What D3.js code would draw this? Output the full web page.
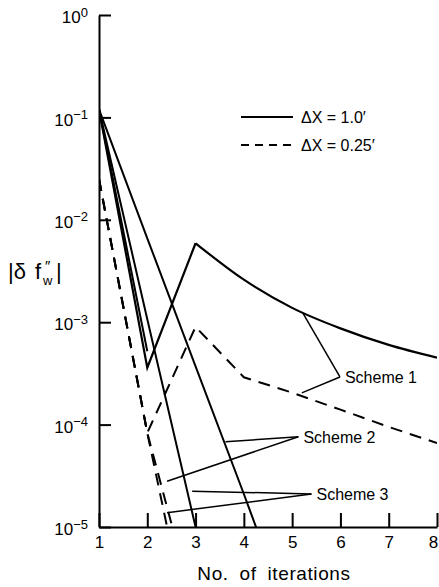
<!DOCTYPE html>
<html>
<head>
<meta charset="utf-8">
<script src="https://cdn.jsdelivr.net/npm/d3@7/dist/d3.min.js"></script>
<style>
  body { margin: 0; background: #fff; }
  svg { display: block; font-family: "Liberation Sans", Arial, sans-serif; }
</style>
</head>
<body>
<div id="chart"></div>
<script>
// iteration number on x, |delta f''w| on y (log)
const iterations = [1, 2, 3, 4, 5, 6, 7, 8];
const yTickValues = [1, 1e-1, 1e-2, 1e-3, 1e-4, 1e-5];
const yTickExponents = ['0', '\u22121', '\u22122', '\u22123', '\u22124', '\u22125'];

// dX = 1.0'
const solidScheme1 = [0.12, 3.6e-4, 5.9e-3, 2.6e-3, 1.38e-3, 8.7e-4, 6.0e-4, 4.5e-4];
const solidScheme1b = [0.12, 5.2e-4];
const solidScheme2 = [0.12, 6.6e-3, 3.7e-4, 2.1e-5, 1.1e-6];
const solidScheme3 = [0.12, 1.07e-3, 1.0e-5];

// dX = 0.25'
const dashedScheme1 = [0.025, 8.3e-5, 9.0e-4, 2.9e-4, 2.05e-4, 1.4e-4, 9.5e-5, 6.6e-5];
const dashedScheme2 = [0.025, 8.3e-5, 4.8e-7];
const dashedScheme3 = [0.025, 8.3e-5, 1.4e-6];

// annotation leaders, in data units
const schemeLabels = ['Scheme 1', 'Scheme 2', 'Scheme 3'];
const leaderHubs = [[5.99, 2.92e-4], [5.13, 7.6e-5], [5.40, 2.1e-5]];
const leaderEnds = [
    [[5.22, 1.23e-3], [5.20, 2.04e-4]],
    [[3.62, 6.8e-5], [2.41, 2.8e-5]],
    [[2.93, 2.24e-5], [2.41, 1.38e-5]]
];

const width = 439, height = 587;
const x0 = 99, x1 = 437, yTop = 15, yBot = 527;

const svg = d3.select('#chart')
    .append('svg')
    .attr('width', width)
    .attr('height', height);

const xScale = d3.scaleLinear().domain([1, 8]).range([x0, x1]);
const yScale = d3.scaleLog().domain([1e-5, 1]).range([yBot, yTop]);

svg.append('clipPath')
    .attr('id', 'plotClip')
    .append('rect')
    .attr('x', x0)
    .attr('y', yTop)
    .attr('width', x1 - x0)
    .attr('height', yBot - yTop);

// axes
const yAxis = svg.append('g')
    .attr('transform', `translate(${x0}, 0)`)
    .call(d3.axisLeft(yScale)
        .tickValues(yTickValues)
        .tickSizeInner(-12)
        .tickSizeOuter(0)
        .tickFormat(() => ''));

yAxis.selectAll('text').each(function(d, i) {
    const t = d3.select(this);
    t.text(null);
    t.append('tspan').text('10');
    t.append('tspan')
        .attr('dy', '-0.5em')
        .style('font-size', '13px')
        .text(yTickExponents[i]);
});
yAxis.selectAll('text')
    .attr('x', -11)
    .attr('dy', '0.45em')
    .style('font-size', '17px')
    .attr('fill', '#000');

const xAxis = svg.append('g')
    .attr('transform', `translate(0, ${yBot})`)
    .call(d3.axisBottom(xScale)
        .tickValues(iterations)
        .tickSizeInner(-14)
        .tickSizeOuter(0)
        .tickPadding(9)
        .tickFormat(d3.format('d')));

xAxis.selectAll('text')
    .style('font-size', '17px')
    .attr('fill', '#000')
    .attr('dx', d => d === 8 ? -4 : 0);

svg.selectAll('.domain, .tick line')
    .attr('stroke', '#000')
    .attr('stroke-width', 2);

// y axis label |δ f''w|
const yLabel = svg.append('text')
    .attr('y', 279)
    .style('font-size', '22px')
    .attr('fill', '#000');
yLabel.append('tspan').attr('x', 8).text('|\u03b4');
yLabel.append('tspan').attr('x', 35).text('f');
yLabel.append('tspan').attr('x', 43).attr('y', 285).style('font-size', '13px').text('w');
yLabel.append('tspan').attr('x', 45).attr('y', 271).style('font-size', '15px').text('\u2033');
yLabel.append('tspan').attr('x', 56).attr('y', 279).text('|');

svg.append('text')
    .attr('x', (x0 + x1) / 2 + 6)
    .attr('y', 580)
    .attr('text-anchor', 'middle')
    .style('font-size', '19px')
    .style('letter-spacing', '0.6px')
    .style('word-spacing', '5px')
    .attr('fill', '#000')
    .text('No. of iterations');

// series
const line = d3.line()
    .x((d, i) => xScale(iterations[i]))
    .y(d => yScale(d));

const plot = svg.append('g').attr('clip-path', 'url(#plotClip)');

const solidSeries = [solidScheme1b, solidScheme2, solidScheme3];
solidSeries.forEach(s => {
    plot.append('path')
        .datum(s)
        .attr('fill', 'none')
        .attr('stroke', '#000')
        .attr('stroke-width', 2)
        .attr('d', line);
});

// scheme 1 solid: straight up to the peak, smooth afterwards
plot.append('path')
    .datum(solidScheme1.slice(0, 3))
    .attr('fill', 'none')
    .attr('stroke', '#000')
    .attr('stroke-width', 2.2)
    .attr('d', line);

const tailLine = d3.line()
    .x((d, i) => xScale(iterations[i + 2]))
    .y(d => yScale(d))
    .curve(d3.curveMonotoneX);

plot.append('path')
    .datum(solidScheme1.slice(2))
    .attr('fill', 'none')
    .attr('stroke', '#000')
    .attr('stroke-width', 2.2)
    .attr('d', tailLine);

const dashedSeries = [dashedScheme1, dashedScheme2, dashedScheme3];
dashedSeries.forEach(s => {
    plot.append('path')
        .datum(s)
        .attr('fill', 'none')
        .attr('stroke', '#000')
        .attr('stroke-width', 2)
        .attr('stroke-dasharray', '12 8')
        .attr('d', line);
});

// leaders + labels
schemeLabels.forEach((label, i) => {
    const hx = xScale(leaderHubs[i][0]);
    const hy = yScale(leaderHubs[i][1]);
    leaderEnds[i].forEach(e => {
        svg.append('line')
            .attr('x1', hx)
            .attr('y1', hy)
            .attr('x2', xScale(e[0]))
            .attr('y2', yScale(e[1]))
            .attr('stroke', '#000')
            .attr('stroke-width', 1.5);
    });
    svg.append('text')
        .attr('x', hx + 5)
        .attr('y', hy)
        .attr('dy', '0.36em')
        .style('font-size', '16px')
        .attr('fill', '#000')
        .text(label);
});

// legend
const legendKeys = ['\u0394X = 1.0\u2032', '\u0394X = 0.25\u2032'];
const legendDash = [null, '8 6'];
legendKeys.forEach((k, i) => {
    const ly = 117 + i * 28;
    svg.append('line')
        .attr('x1', 241)
        .attr('x2', 293)
        .attr('y1', ly)
        .attr('y2', ly)
        .attr('stroke', '#000')
        .attr('stroke-width', 2)
        .attr('stroke-dasharray', legendDash[i]);
    svg.append('text')
        .attr('x', 301)
        .attr('y', ly)
        .attr('dy', '0.36em')
        .style('font-size', '16px')
        .attr('fill', '#000')
        .text(k);
});
</script>
</body>
</html>
